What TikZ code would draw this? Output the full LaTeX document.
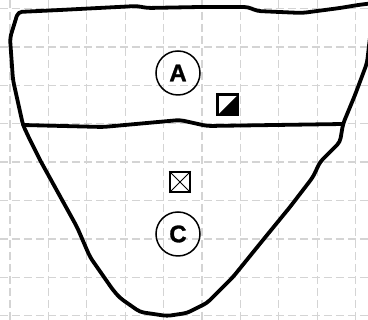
\documentclass[tikz,border=0pt]{standalone}
\usepackage{fontspec}
\setmainfont{Liberation Sans}
\newfontfamily\heavyfont[BoldFeatures={FakeBold=1.2}]{Liberation Sans}
\begin{document}
\begin{tikzpicture}[x=1pt,y=-1pt,
  gridline/.style={draw=black!17, line width=1.3pt, dash pattern=on 8pt off 4pt},
  outline/.style={draw=black, line width=3.8pt, line join=round, line cap=round, rounded corners=4pt},
  label/.style={circle, draw=black, line width=1.5pt, minimum size=44pt, inner sep=0pt, font=\heavyfont\fontsize{24}{24}\selectfont\bfseries},
  markbox/.style={draw=black, line width=1.5pt, minimum size=20pt, inner sep=0pt}]
\useasboundingbox (0,0) rectangle (368,320);
\clip (0,0) rectangle (368,320);
\fill[white] (0,0) rectangle (368,320);
% grid
\foreach \i in {0,...,9} \draw[gridline] ({10+38.4*\i},0) -- ({10+38.4*\i},320);
\foreach \j in {0,...,8} \draw[gridline] (0,{8.5+38.4*\j}) -- (368,{8.5+38.4*\j});
% outline
\draw[outline] (18,12) -- (60,10) -- (137,6) -- (147,8) -- (200,7) -- (248,7) -- (257,11) -- (302,13) -- (340,8) -- (358,5) -- (374,3)
  -- (367,63) -- (355,95) -- (343,124) -- (340,142) -- (320,162) -- (313,177) -- (290,207) -- (263,240) -- (233,277) -- (207,303)
  -- (187,313) -- (167,316) -- (140,312) -- (120,298) -- (113,290) -- (90,257) -- (77,227) -- (40,160) -- (30,140) -- (23,125)
  -- (13,80) -- (10,38) -- cycle;
\draw[outline] (23,125) -- (103,127) -- (180,120) -- (207,126) -- (343,124);
% labels
\node[label] (A) at (178,73) {A};
\node[label] (C) at (178,234) {C};
% half filled box
\node[markbox] (H) at (228,105) {};
\fill[black] (H.south west) -- (H.north east) -- (H.south east) -- cycle;
\draw[line width=1.5pt] (H.south west) rectangle (H.north east);
% crossed box
\node[markbox] (X) at (180,182) {};
\draw[line width=1pt] (X.south west) -- (X.north east) (X.north west) -- (X.south east);
\end{tikzpicture}
\end{document}
